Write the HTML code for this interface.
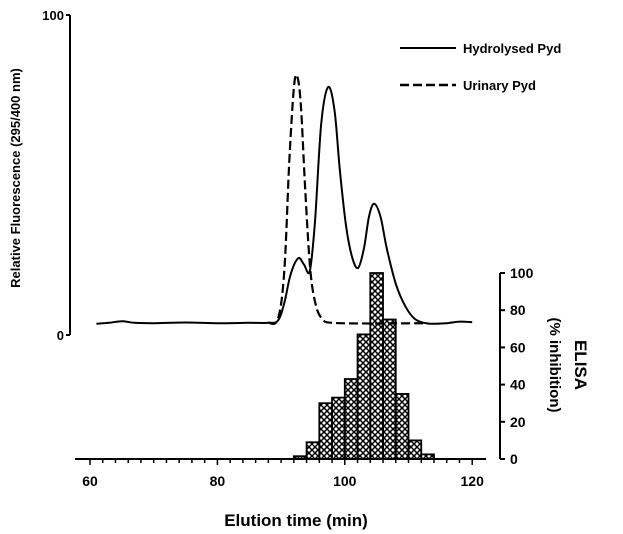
<!DOCTYPE html>
<html><head><meta charset="utf-8"><style>
body{margin:0;background:#fff}
svg{display:block;font-family:"Liberation Sans",Arial,sans-serif;font-weight:bold}
</style></head><body>
<svg id="chart" width="623" height="534" viewBox="0 0 623 534">
<defs>
<pattern id="xh" width="6" height="6" patternUnits="userSpaceOnUse">
<path d="M0,0L6,6M6,0L0,6" stroke="#000" stroke-width="1.5"/>
</pattern>
</defs>
<g id="axes"></g>
<g id="marks"></g>
<text transform="translate(20,178) rotate(-90)" text-anchor="middle" font-size="13">Relative Fluorescence (295/400 nm)</text>
<text x="296" y="526" text-anchor="middle" font-size="17">Elution time (min)</text>
<text transform="translate(575,365) rotate(90)" text-anchor="middle" font-size="17">ELISA</text>
<text transform="translate(550,365) rotate(90)" text-anchor="middle" font-size="15">(% inhibition)</text>
<g>
<line x1="400" y1="48" x2="456" y2="48" stroke="#000" stroke-width="2"/>
<text x="463" y="53" font-size="13">Hydrolysed Pyd</text>
<line x1="400" y1="85" x2="456" y2="85" stroke="#000" stroke-width="2.5" stroke-dasharray="9,4"/>
<text x="463" y="90" font-size="13">Urinary Pyd</text>
</g>
</svg>
<script>
const histBinStarts=[92,94,96,98,100,102,104,106,108,110,112];
const histValues=[1.5,9,30,33,43,67,100,75,35,10,2.5];
const hydroTimes=[61,63,65,67,70,75,80,85,88,89.5,90.5,91.5,92.7,93.6,94.5,95.3,96.3,97.4,98.4,99.2,100.2,101.2,102.1,103,103.8,104.6,105.6,106.6,108,109.5,111,113,116,118,120];
const hydroValues=[3.5,3.8,4.3,3.8,3.7,3.9,3.7,3.8,3.8,4.5,10,19,24,22,20,35,66,77.5,70,52,34,24,21,27,37,41,37,27,16,9,5,3.6,3.7,4.2,4.0];
const urinTimes=[88,89.5,90.5,91.3,92,92.5,93.1,93.8,94.6,95.5,96.5,98,105,113];
const urinValues=[3.8,5,20,55,77,81,72,45,20,9,5,3.8,3.6,3.7];
const xTicks=[60,80,100,120];
const fTicks=[0,100];
const eTicks=[0,20,40,60,80,100];
const NS="http://www.w3.org/2000/svg";
const xS=t=>90+(t-60)*6.37;
const fS=v=>335-v*3.2;
const eS=v=>459-v*1.86;
function mk(tag,attrs,parent){const e=document.createElementNS(NS,tag);for(const k in attrs)e.setAttribute(k,attrs[k]);parent.appendChild(e);return e;}
const axes=document.getElementById('axes'),marks=document.getElementById('marks');
let l=mk('line',{x1:70,y1:fS(100),x2:70,y2:fS(0),stroke:'#000','stroke-width':2},axes);


fTicks.forEach(v=>{
 const t=mk('line',{x1:66,y1:fS(v),x2:70,y2:fS(v),stroke:'#000','stroke-width':2},axes);
 
 
 const tx=mk('text',{x:64,y:fS(v)+5,'text-anchor':'end','font-size':13},axes);
 
 
 tx.textContent=v;
});
l=mk('line',{x1:75,y1:459,x2:486,y2:459,stroke:'#000','stroke-width':2},axes);


for(let t=60;t<=120;t+=2){
 const tk=mk('line',{x1:xS(t),y1:459,x2:xS(t),y2:t%20==0?465:463,stroke:'#000','stroke-width':1.5},axes);
 
 
}
xTicks.forEach(t=>{
 const tx=mk('text',{x:xS(t),y:486,'text-anchor':'middle','font-size':14},axes);
 
 
 tx.textContent=t;
});
l=mk('line',{x1:500,y1:eS(100),x2:500,y2:eS(0),stroke:'#000','stroke-width':2},axes);


eTicks.forEach(v=>{
 const t=mk('line',{x1:500,y1:eS(v),x2:505,y2:eS(v),stroke:'#000','stroke-width':2},axes);
 
 
 const tx=mk('text',{x:510,y:eS(v)+5,'font-size':14},axes);
 
 
 tx.textContent=v;
});
histBinStarts.forEach((s,i)=>{
 const x0=xS(s),x1=xS(s+2),y=eS(histValues[i]);
 const r=mk('rect',{x:x0,y:y,width:x1-x0,height:459-y,fill:'url(#xh)',stroke:'#000','stroke-width':1.8},marks);
 
 
});
function path(ts,vs){
 const P=ts.map((t,i)=>[xS(t),fS(vs[i])]);
 let d='M'+P[0][0].toFixed(1)+','+P[0][1].toFixed(1);
 for(let i=0;i<P.length-1;i++){
  const p0=P[Math.max(0,i-1)],p1=P[i],p2=P[i+1],p3=P[Math.min(P.length-1,i+2)];
  const c1=[p1[0]+(p2[0]-p0[0])/6,p1[1]+(p2[1]-p0[1])/6];
  const c2=[p2[0]-(p3[0]-p1[0])/6,p2[1]-(p3[1]-p1[1])/6];
  d+='C'+c1.map(n=>n.toFixed(1)).join(',')+' '+c2.map(n=>n.toFixed(1)).join(',')+' '+p2.map(n=>n.toFixed(1)).join(',');
 }
 return d;
}
let p=mk('path',{d:path(urinTimes,urinValues),fill:'none',stroke:'#000','stroke-width':2.2,'stroke-dasharray':'9,4','stroke-linejoin':'round'},marks);


p=mk('path',{d:path(hydroTimes,hydroValues),fill:'none',stroke:'#000','stroke-width':2,'stroke-linejoin':'round'},marks);


</script>
</body></html>
